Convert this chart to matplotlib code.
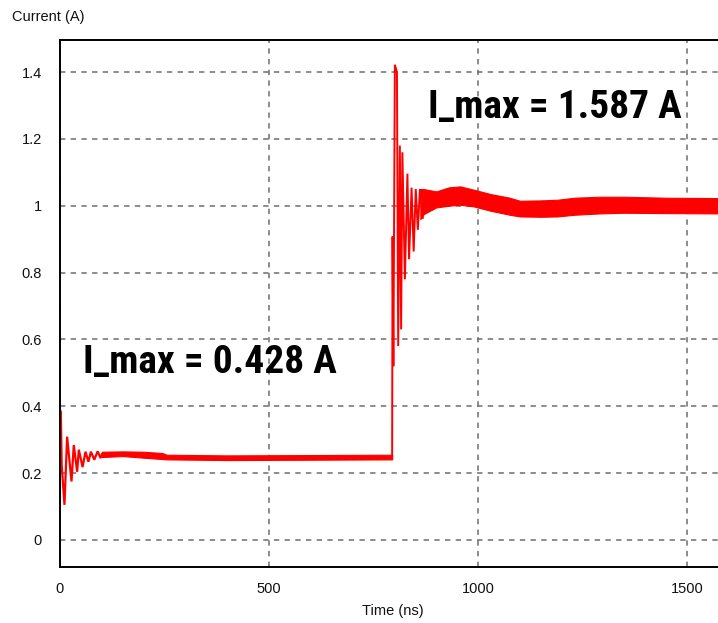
import matplotlib
matplotlib.use("Agg")
import matplotlib.pyplot as plt
from matplotlib import font_manager

# ---- waveform data (time in ns, current in A) ----
# start-up ringing after t = 0
start_t = [0, 2, 4, 10.7, 17, 27.5, 33, 41, 45, 54, 61, 68, 74, 82, 90, 97, 100]
start_i = [0.384, 0.384, 0.225, 0.105, 0.309, 0.175, 0.284, 0.204, 0.27, 0.218,
           0.264, 0.234, 0.264, 0.24, 0.265, 0.245, 0.256]

# settled low-current band (ripple envelope)
low_t = [100, 150, 200, 245, 255, 400, 600, 794.5]
low_lo = [0.248, 0.251, 0.246, 0.242, 0.241, 0.239, 0.240, 0.241]
low_hi = [0.264, 0.265, 0.264, 0.260, 0.255, 0.253, 0.254, 0.255]

# load step and ringing
step_t = [794.5, 795.5, 797.5, 801, 806, 809, 813, 816, 819, 825, 831, 835,
          841, 846, 851, 856, 861, 868]
step_i = [0.248, 0.908, 0.52, 1.422, 1.40, 0.58, 1.18, 0.63, 1.16, 0.78, 1.096,
          0.84, 1.054, 0.863, 1.05, 0.928, 1.05, 0.964]

# settled high-current band (ripple envelope)
high_t = [862, 870, 900, 930, 957, 990, 1030, 1076, 1100, 1150, 1190, 1230,
          1290, 1350, 1450, 1575]
high_lo = [0.960, 0.975, 0.995, 1.000, 1.003, 0.998, 0.985, 0.973, 0.968, 0.967,
           0.968, 0.973, 0.977, 0.979, 0.978, 0.977]
high_hi = [1.050, 1.050, 1.043, 1.055, 1.058, 1.048, 1.035, 1.024, 1.015, 1.016,
           1.018, 1.024, 1.027, 1.027, 1.024, 1.023]

x_ticks = [0, 500, 1000, 1500]
y_ticks = [0, 0.2, 0.4, 0.6, 0.8, 1.0, 1.2, 1.4]
y_tick_labels = ["0", "0.2", "0.4", "0.6", "0.8", "1", "1.2", "1.4"]

notes = [("I_max = 0.428 A", 55, 0.50), ("I_max = 1.587 A", 880, 1.262)]
NOTE_WIDTH_PX = 254  # rendered width of each annotation


def condensed_bold():
    """Pick the narrowest installed bold sans face available."""
    prefs = ["liberation sans narrow", "roboto condensed", "open sans condensed",
             "noto sans condensed", "noto sans", "dejavu sans condensed"]
    best = None
    for f in font_manager.fontManager.ttflist:
        w = f.weight
        bold = (isinstance(w, int) and w >= 600) or str(w).lower() in ("bold", "700", "demibold")
        if not bold:
            continue
        name = f.name.lower()
        narrow = "condensed" in str(f.stretch).lower() or "narrow" in name or "condensed" in name
        if not narrow:
            continue
        for rank, p in enumerate(prefs):
            if name.startswith(p):
                if best is None or rank < best[0]:
                    best = (rank, f.fname)
                break
        else:
            if best is None:
                best = (len(prefs), f.fname)
    if best is None:
        return font_manager.FontProperties(family=["Roboto", "DejaVu Sans"], weight="bold")
    return font_manager.FontProperties(fname=best[1])


plt.rcParams["font.family"] = ["Liberation Sans", "DejaVu Sans"]

W, H = 718, 623
fig = plt.figure(figsize=(W / 100, H / 100), dpi=100)
ax = fig.add_axes([60 / W, (H - 567) / H, (W - 60) / W, (567 - 40) / H])

red = "#ff0000"
ax.plot(start_t, start_i, color=red, lw=1.6, solid_joinstyle="miter")
ax.fill_between(low_t, low_lo, low_hi, color=red, lw=0.8, edgecolor=red)
ax.plot(step_t, step_i, color=red, lw=1.4, solid_joinstyle="miter")
ax.fill_between(high_t, high_lo, high_hi, color=red, lw=0.8, edgecolor=red)

ax.set_xlim(0, 1574)
ax.set_ylim(-0.081, 1.496)
ax.set_xticks(x_ticks)
ax.set_yticks(y_ticks)
ax.set_yticklabels(y_tick_labels)
ax.tick_params(length=0, labelsize=10.5, colors="#111111")
ax.tick_params(axis="y", pad=13)
ax.tick_params(axis="x", pad=11)
ax.grid(True, color="#6e6e6e", lw=1.1, linestyle=(0, (3.5, 3.5)))
ax.set_axisbelow(True)

for side in ("left", "top", "bottom"):
    ax.spines[side].set_linewidth(1.4)
    ax.spines[side].set_color("#000000")
ax.spines["right"].set_visible(False)

fig.text(12 / W, 1 - 17 / H, "Current (A)", fontsize=10.5, color="#111111",
         ha="left", va="center")
fig.text(393 / W, 1 - 611 / H, "Time (ns)", fontsize=10.5, color="#111111",
         ha="center", va="center")

fp = condensed_bold()
fp.set_size(28)
texts = [ax.text(tx, ty, label, fontproperties=fp, color="#000000",
                 ha="left", va="baseline") for label, tx, ty in notes]

# size the annotations so they span the intended width
renderer = fig.canvas.get_renderer()
width = texts[0].get_window_extent(renderer).width
size = min(34.0, 28 * NOTE_WIDTH_PX / width)
for t in texts:
    t.set_fontsize(size)

fig.savefig("out.png", dpi=100)
